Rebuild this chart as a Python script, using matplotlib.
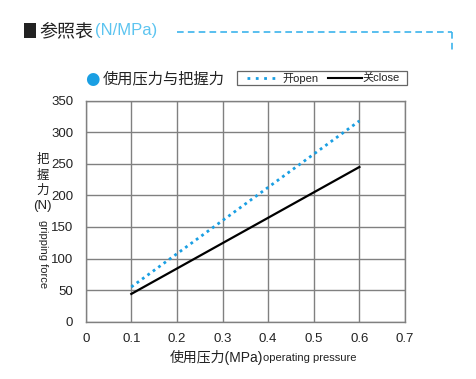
import matplotlib
matplotlib.use("Agg")
import matplotlib.pyplot as plt
from matplotlib.lines import Line2D
from matplotlib.patches import Rectangle

plt.rcParams['font.family'] = ['Liberation Sans', 'Noto Sans CJK SC', 'DejaVu Sans']

# Data
pressure = [0.1, 0.6]                 # MPa
open_force = [55, 318]                # N (开 open)
close_force = [44, 245]               # N (关 close)
x_ticks = [0, 0.1, 0.2, 0.3, 0.4, 0.5, 0.6, 0.7]
y_ticks = [0, 50, 100, 150, 200, 250, 300, 350]

W, H = 477, 379
fig = plt.figure(figsize=(W / 100, H / 100), dpi=100)
fig.patch.set_facecolor('white')

def fx(px):
    return px / W

def fy(py):
    return 1 - py / H

ax = fig.add_axes([fx(85.7), fy(321.7), fx(405) - fx(85.7), fy(100.7) - fy(321.7)])
ax.set_xlim(0, 0.7)
ax.set_ylim(0, 350)
ax.set_xticks(x_ticks)
ax.set_yticks(y_ticks)
ax.set_xticklabels([f"{v:g}" for v in x_ticks], fontsize=9.5, color='#222222')
ax.set_yticklabels([str(v) for v in y_ticks], fontsize=9.5, color='#222222')
ax.tick_params(length=0, pad=9)
ax.tick_params(axis='x', pad=8)
ax.grid(True, color='#808080', linewidth=1.0)
ax.set_axisbelow(True)
for s in ax.spines.values():
    s.set_color('#808080')
    s.set_linewidth(1.0)

open_color = '#1a9fe3'
dot_style = (0, (1, 1.4))
ax.plot(pressure, open_force, color=open_color, linestyle=dot_style, linewidth=2.0,
        dash_capstyle='butt')
ax.plot(pressure, close_force, color='black', linewidth=1.6)

# x-axis label
fig.text(fx(170), fy(357), '使用压力(MPa)', fontsize=10, color='#222222',
         va='center', ha='left', family=['Liberation Sans', 'Noto Sans CJK SC'])
fig.text(fx(263), fy(358), 'operating pressure', fontsize=8, color='#222222',
         va='center', ha='left')

# y-axis label (stacked CJK + rotated english)
for ch, yy in [('把', 160), ('握', 175), ('力', 190)]:
    fig.text(fx(42.5), fy(yy), ch, fontsize=9, color='#222222', ha='center', va='center',
             family=['Noto Sans CJK SC'])
fig.text(fx(42.5), fy(206), '(N)', fontsize=9.5, color='#222222', ha='center', va='center')
fig.text(fx(42.5), fy(254), 'gripping force', fontsize=8, color='#222222', ha='center',
         va='center', rotation=270)

# Title
fig.add_artist(Rectangle((fx(24), fy(38)), fx(36) - fx(24), fy(23) - fy(38),
                         transform=fig.transFigure, facecolor='#222222', edgecolor='none'))
fig.text(fx(39), fy(31), '参照表', fontsize=13, color='#222222', va='center', ha='left',
         family=['Noto Sans CJK SC'])
fig.text(fx(95), fy(31), '(N/MPa)', fontsize=12, color='#5cc4f0', va='center', ha='left')
title_dash = '#3cb4ec'
fig.add_artist(Line2D([fx(177), fx(452)], [fy(32), fy(32)], transform=fig.transFigure,
                      color=title_dash, linewidth=1.2, linestyle=(0, (4, 2.5))))
fig.add_artist(Line2D([fx(452), fx(452)], [fy(32), fy(50)], transform=fig.transFigure,
                      color=title_dash, linewidth=1.2, linestyle=(0, (4, 2.5))))

# Subtitle with circle
fig.text(fx(92), fy(79), '●', fontsize=12, color='#1a9fe3', ha='center', va='center',
         family=['DejaVu Sans'])
fig.text(fx(103), fy(79), '使用压力与把握力', fontsize=11, color='#222222', ha='left',
         va='center', family=['Noto Sans CJK SC'])

# Legend box
fig.add_artist(Rectangle((fx(237), fy(85)), fx(407) - fx(237), fy(71) - fy(85),
                         transform=fig.transFigure, facecolor='white', edgecolor='#666666',
                         linewidth=0.9))
fig.add_artist(Line2D([fx(247), fx(278)], [fy(78), fy(78)], transform=fig.transFigure,
                      color=open_color, linewidth=2.0, linestyle=(0, (1, 2.0))))
fig.text(fx(282), fy(78), '开open', fontsize=8, color='#222222', ha='left', va='center',
         family=['Liberation Sans', 'Noto Sans CJK SC'])
fig.add_artist(Line2D([fx(328), fx(362)], [fy(78), fy(78)], transform=fig.transFigure,
                      color='black', linewidth=1.5))
fig.text(fx(362), fy(78), '关close', fontsize=8, color='#222222', ha='left', va='center',
         family=['Liberation Sans', 'Noto Sans CJK SC'])

fig.savefig('out.png', dpi=100, facecolor='white')
